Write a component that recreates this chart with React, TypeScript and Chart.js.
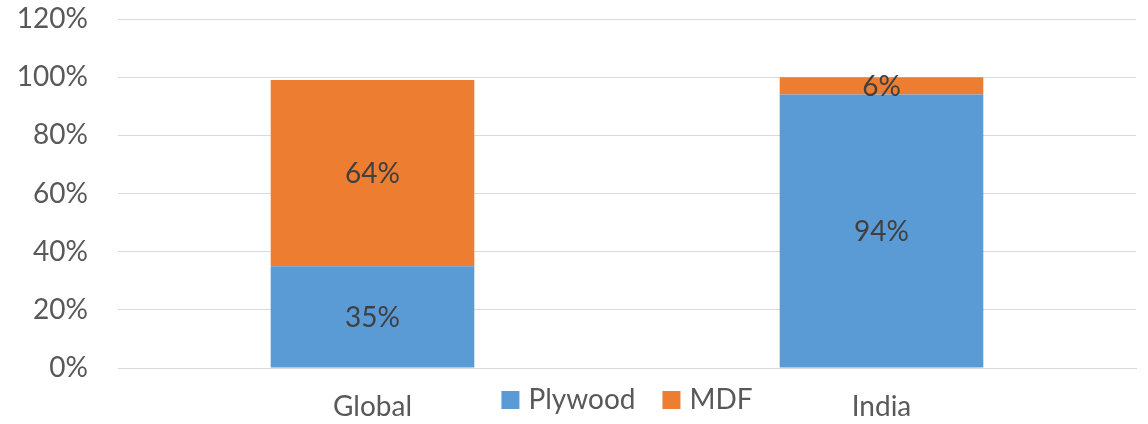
import React, { useEffect, useRef } from "react";
import { Chart, registerables } from "chart.js";

Chart.register(...registerables);

const categories = ["Global", "India"];
const plywoodShare = [35, 94];
const mdfShare = [64, 6];
const seriesNames = ["Plywood", "MDF"];
const seriesColors = ["#5B9BD5", "#ED7D31"];

const FONT = "Lato, 'Liberation Sans', sans-serif";
const TEXT_SIZE = 28;

// Writes each segment's value in the middle of its bar piece
const segmentLabels = {
  id: "segmentLabels",
  afterDatasetsDraw(chart: any) {
    const { ctx } = chart;
    ctx.save();
    ctx.font = `${TEXT_SIZE}px ${FONT}`;
    ctx.fillStyle = "#404040";
    ctx.textAlign = "center";
    ctx.textBaseline = "middle";
    chart.data.datasets.forEach((ds: any, di: number) => {
      const meta = chart.getDatasetMeta(di);
      meta.data.forEach((bar: any, i: number) => {
        const p = bar.getProps(["x", "y", "base"], true);
        const cy = (p.y + p.base) / 2 + 1;
        ctx.fillText(`${ds.data[i]}%`, p.x, cy);
      });
    });
    ctx.restore();
  },
};

// Legend sits on the category-label row, centred under the plot area
const inlineLegend = {
  id: "inlineLegend",
  afterDraw(chart: any) {
    const { ctx, chartArea } = chart;
    const box = 18;
    const gapBoxText = 9;
    const gapItems = 27;
    ctx.save();
    ctx.font = `${TEXT_SIZE}px ${FONT}`;
    ctx.textBaseline = "middle";
    ctx.textAlign = "left";
    const items = chart.data.datasets.map((ds: any) => ({
      label: ds.label,
      color: ds.backgroundColor,
      w: ctx.measureText(ds.label).width,
    }));
    const total =
      items.reduce((s: number, it: any) => s + box + gapBoxText + it.w, 0) +
      gapItems * (items.length - 1);
    let x = (chartArea.left + chartArea.right) / 2 - total / 2;
    const cy = 400;
    items.forEach((it: any) => {
      ctx.fillStyle = it.color;
      ctx.fillRect(x, cy - box / 2, box, box);
      x += box + gapBoxText;
      ctx.fillStyle = "#595959";
      ctx.fillText(it.label, x, cy);
      x += it.w + gapItems;
    });
    ctx.restore();
  },
};

export default function App() {
  const ref = useRef<HTMLCanvasElement | null>(null);

  useEffect(() => {
    if (!ref.current) return;
    const chart = new Chart(ref.current, {
      type: "bar",
      data: {
        labels: categories,
        datasets: [
          {
            label: seriesNames[0],
            data: plywoodShare,
            backgroundColor: seriesColors[0],
            barPercentage: 0.4,
            categoryPercentage: 1,
          },
          {
            label: seriesNames[1],
            data: mdfShare,
            backgroundColor: seriesColors[1],
            barPercentage: 0.4,
            categoryPercentage: 1,
          },
        ],
      },
      options: {
        animation: false,
        responsive: true,
        maintainAspectRatio: false,
        layout: { padding: { top: 19, right: 12, left: 0, bottom: 0 } },
        plugins: {
          legend: { display: false },
          tooltip: { enabled: false },
        },
        scales: {
          x: {
            stacked: true,
            grid: { display: false, drawTicks: false },
            border: { display: true, color: "#D9D9D9", width: 1 },
            ticks: {
              color: "#595959",
              font: { family: FONT, size: TEXT_SIZE },
              padding: 22,
            },
            afterFit(scale: any) {
              scale.height = 56;
              scale.paddingLeft = 0;
              scale.paddingRight = 0;
            },
          },
          y: {
            stacked: true,
            min: 0,
            max: 120,
            grid: { color: "#D9D9D9", lineWidth: 1, drawTicks: false },
            border: { display: false },
            ticks: {
              stepSize: 20,
              color: "#595959",
              font: { family: FONT, size: TEXT_SIZE },
              padding: 30,
              callback: (v: any) => `${v}%`,
            },
            afterFit(scale: any) {
              scale.width = 118;
              scale.paddingTop = 0;
              scale.paddingBottom = 0;
            },
          },
        },
      },
      plugins: [segmentLabels, inlineLegend],
    });
    return () => chart.destroy();
  }, []);

  return (
    <div style={{ position: "fixed", left: 0, top: 0, width: 1148, height: 424, background: "#fff" }}>
      <canvas ref={ref} />
    </div>
  );
}
